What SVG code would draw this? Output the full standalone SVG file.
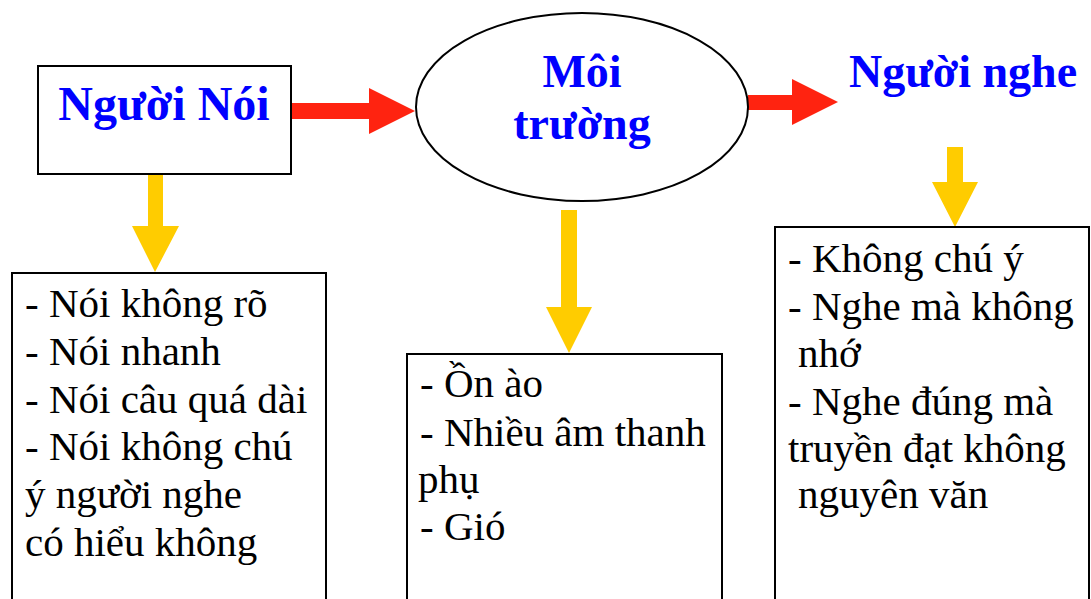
<svg xmlns="http://www.w3.org/2000/svg" width="1091" height="599" viewBox="0 0 1091 599">
<style>
.box{fill:#fff;stroke:#000;stroke-width:2}
.title{font-family:"Liberation Serif","Times New Roman",serif;font-weight:bold;fill:#0000FF;font-size:46px}
.body{font-family:"Liberation Serif","Times New Roman",serif;fill:#000;font-size:41px}
.red{fill:#FF2310}
.yellow{fill:#FFCC00}
</style>
<rect width="1091" height="599" fill="#fff"/>
<g id="connectors">
<polygon class="red" points="291,103 369,103 369,88 415,111 369,134 369,119 291,119"/>
<polygon class="red" points="748,95 792,95 792,79 838,102 792,125 792,110 748,110"/>
<polygon class="yellow" points="148,174 163,174 163,226 179,226 155,272 132,226 148,226"/>
<polygon class="yellow" points="561,210 577,210 577,307 592,307 569,353 546,307 561,307"/>
<polygon class="yellow" points="947,147 963,147 963,182 978,182 955,227 932,182 947,182"/>
</g>
<g id="nguoi-noi">
<rect class="box" x="38" y="66" width="253" height="108"/>
<text class="title" x="164" y="120" text-anchor="middle" style="font-size:48px">Người Nói</text>
</g>
<g id="moi-truong">
<ellipse class="box" cx="582" cy="107" rx="166" ry="94"/>
<text class="title" x="582" y="87" text-anchor="middle">Môi</text>
<text class="title" x="582" y="139" text-anchor="middle">trường</text>
</g>
<g id="nguoi-nghe">
<text class="title" x="963" y="87" text-anchor="middle">Người nghe</text>
</g>
<g id="noi-causes">
<rect class="box" x="12" y="273" width="314" height="340"/>
<text class="body" x="25" y="317">- Nói không rõ</text>
<text class="body" x="25" y="365">- Nói nhanh</text>
<text class="body" x="25" y="413">- Nói câu quá dài</text>
<text class="body" x="25" y="460">- Nói không chú</text>
<text class="body" x="25" y="508">ý người nghe</text>
<text class="body" x="25" y="556">có hiểu không</text>
</g>
<g id="moi-truong-causes">
<rect class="box" x="407" y="354" width="315" height="260"/>
<text class="body" x="420" y="397">- Ồn ào</text>
<text class="body" x="420" y="446">- Nhiều âm thanh</text>
<text class="body" x="418" y="493">phụ</text>
<text class="body" x="420" y="540">- Gió</text>
</g>
<g id="nghe-causes">
<rect class="box" x="775" y="227" width="314" height="390"/>
<text class="body" x="788" y="272">- Không chú ý</text>
<text class="body" x="788" y="320">- Nghe mà không</text>
<text class="body" x="798" y="367">nhớ</text>
<text class="body" x="788" y="415">- Nghe đúng mà</text>
<text class="body" x="788" y="462">truyền đạt không</text>
<text class="body" x="798" y="508">nguyên văn</text>
</g>
</svg>
